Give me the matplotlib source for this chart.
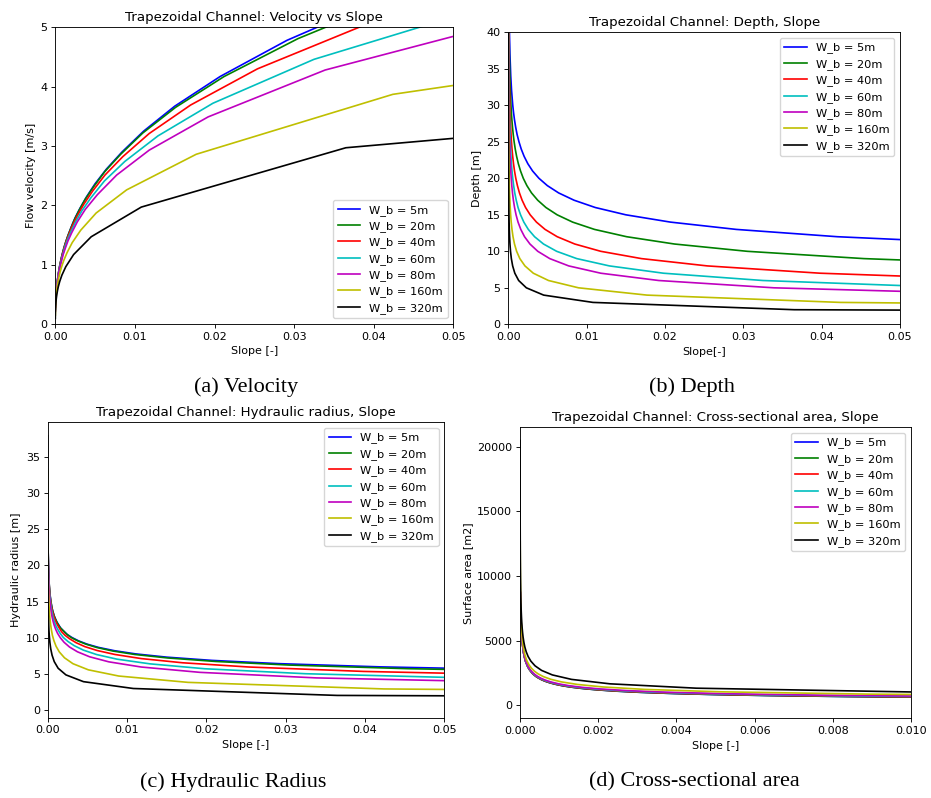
import numpy as np
import matplotlib
matplotlib.use("Agg")
import matplotlib.pyplot as plt

widths = [5, 20, 40, 60, 80, 160, 320]
colors = ['b', 'g', 'r', 'c', 'm', 'y', 'k']

# water depth [m] at which every channel was evaluated
depth = [1, 2, 3, 4, 5, 6, 7, 8, 9, 10, 11, 12, 13, 14, 15, 16, 17, 18, 19, 20,
         21, 22, 23, 24, 25, 26, 27, 28, 29, 30, 32, 34, 37, 40, 44, 49]

# bed slope, in units of 1e-4
slope_5 = [8.33e6, 7.21e5, 1.55e5, 4.91e4, 1.96e4, 9.05e3, 4.66e3, 2.59e3, 1.54e3, 960, 624, 420,
           291, 207, 150, 111, 83.9, 64.2, 49.8, 39.1, 31, 24.9, 20.2, 16.5, 13.6, 11.2, 9.39,
           7.89, 6.66, 5.66, 4.15, 3.1, 2.06, 1.41, 0.889, 0.526]
slope_20 = [6.93e5, 7.9e4, 2.12e4, 8.14e3, 3.79e3, 2e3, 1.15e3, 705, 454, 305, 212, 151, 110,
            82.1, 62.3, 48, 37.5, 29.6, 23.7, 19.1, 15.6, 12.8, 10.6, 8.84, 7.42, 6.27, 5.32,
            4.55, 3.9, 3.36, 2.53, 1.94, 1.33, 0.938, 0.61, 0.373]
slope_40 = [1.81e5, 2.17e4, 6.13e3, 2.47e3, 1.2e3, 664, 398, 254, 170, 118, 84.8, 62.4, 46.9,
            35.9, 27.9, 22, 17.6, 14.2, 11.6, 9.54, 7.91, 6.62, 5.57, 4.72, 4.02, 3.45, 2.97,
            2.57, 2.23, 1.95, 1.5, 1.17, 0.826, 0.597, 0.4, 0.253]
slope_60 = [8.16e4, 9.92e3, 2.85e3, 1.17e3, 580, 325, 198, 129, 87.4, 61.7, 44.9, 33.5, 25.5,
            19.8, 15.6, 12.4, 10.1, 8.22, 6.78, 5.64, 4.73, 3.99, 3.39, 2.9, 2.49, 2.15, 1.87,
            1.63, 1.43, 1.26, 0.981, 0.776, 0.558, 0.41, 0.281, 0.181]
slope_80 = [4.62e4, 5.66e3, 1.64e3, 677, 339, 192, 118, 77.1, 52.9, 37.6, 27.6, 20.7, 15.9,
            12.4, 9.88, 7.95, 6.47, 5.32, 4.42, 3.7, 3.12, 2.65, 2.27, 1.95, 1.69, 1.46, 1.28,
            1.12, 0.987, 0.872, 0.688, 0.55, 0.4, 0.298, 0.207, 0.136]
slope_160 = [1.17e4, 1.44e3, 424, 177, 89.6, 51.3, 31.9, 21.2, 14.7, 10.6, 7.87, 5.99, 4.66,
             3.68, 2.96, 2.41, 1.99, 1.65, 1.39, 1.18, 1.0, 0.862, 0.746, 0.648, 0.567, 0.498,
             0.439, 0.389, 0.346, 0.309, 0.248, 0.202, 0.151, 0.116, 0.0828, 0.0566]
slope_320 = [2.93e3, 365, 108, 45.1, 23, 13.2, 8.29, 5.53, 3.86, 2.8, 2.09, 1.6, 1.25, 0.998,
             0.807, 0.661, 0.548, 0.459, 0.388, 0.331, 0.284, 0.246, 0.214, 0.187, 0.165, 0.145,
             0.129, 0.115, 0.103, 0.0925, 0.0753, 0.062, 0.0473, 0.0367, 0.027, 0.0189]

# flow velocity [m/s]
vel_5 = [275, 107, 58.3, 37, 25.7, 18.9, 14.5, 11.5, 9.3, 7.7, 6.48, 5.53, 4.78, 4.17, 3.67,
         3.25, 2.9, 2.61, 2.36, 2.14, 1.95, 1.79, 1.64, 1.51, 1.4, 1.3, 1.21, 1.13, 1.05, 0.987,
         0.872, 0.776, 0.659, 0.566, 0.47, 0.381]
vel_20 = [87.5, 40.1, 24.7, 17.2, 12.8, 10, 8.09, 6.68, 5.63, 4.81, 4.17, 3.65, 3.22, 2.86,
          2.57, 2.31, 2.1, 1.91, 1.75, 1.6, 1.48, 1.37, 1.27, 1.18, 1.1, 1.03, 0.963, 0.905,
          0.851, 0.802, 0.716, 0.643, 0.553, 0.481, 0.405, 0.333]
vel_40 = [45.8, 21.9, 13.9, 10, 7.7, 6.17, 5.09, 4.3, 3.69, 3.21, 2.82, 2.51, 2.24, 2.02, 1.83,
          1.67, 1.53, 1.41, 1.3, 1.2, 1.12, 1.04, 0.973, 0.911, 0.856, 0.805, 0.758, 0.716,
          0.677, 0.642, 0.578, 0.524, 0.456, 0.401, 0.342, 0.285]
vel_60 = [31, 15, 9.72, 7.08, 5.5, 4.46, 3.72, 3.17, 2.74, 2.41, 2.13, 1.91, 1.72, 1.56, 1.43,
          1.31, 1.2, 1.11, 1.03, 0.963, 0.899, 0.841, 0.79, 0.743, 0.7, 0.661, 0.625, 0.593,
          0.563, 0.535, 0.485, 0.442, 0.388, 0.344, 0.296, 0.249]
vel_80 = [23.5, 11.5, 7.46, 5.47, 4.28, 3.49, 2.93, 2.51, 2.18, 1.93, 1.72, 1.54, 1.4, 1.27,
          1.17, 1.07, 0.993, 0.922, 0.859, 0.802, 0.751, 0.706, 0.664, 0.627, 0.592, 0.561,
          0.532, 0.506, 0.481, 0.458, 0.418, 0.383, 0.338, 0.301, 0.26, 0.221]
vel_160 = [11.9, 5.87, 3.87, 2.86, 2.26, 1.87, 1.58, 1.37, 1.2, 1.07, 0.962, 0.872, 0.796, 0.731,
           0.675, 0.627, 0.584, 0.546, 0.512, 0.481, 0.454, 0.429, 0.406, 0.386, 0.367, 0.349,
           0.333, 0.318, 0.304, 0.292, 0.269, 0.248, 0.222, 0.201, 0.176, 0.152]
vel_320 = [5.98, 2.97, 1.97, 1.47, 1.17, 0.966, 0.823, 0.716, 0.633, 0.566, 0.512, 0.466, 0.428,
           0.395, 0.367, 0.342, 0.32, 0.3, 0.283, 0.267, 0.253, 0.24, 0.229, 0.218, 0.208, 0.199,
           0.191, 0.183, 0.176, 0.169, 0.157, 0.146, 0.132, 0.12, 0.107, 0.094]

# hydraulic radius [m]
rad_5 = [0.739, 1.29, 1.79, 2.27, 2.74, 3.2, 3.66, 4.12, 4.57, 5.03, 5.48, 5.93, 6.38, 6.83,
         7.28, 7.73, 8.18, 8.63, 9.08, 9.53, 9.98, 10.4, 10.9, 11.3, 11.8, 12.2, 12.7, 13.1,
         13.6, 14, 14.9, 15.8, 17.1, 18.5, 20.3, 22.5]
rad_20 = [0.899, 1.66, 2.33, 2.96, 3.54, 4.1, 4.64, 5.16, 5.68, 6.18, 6.68, 7.17, 7.65, 8.13,
          8.61, 9.09, 9.56, 10, 10.5, 11, 11.4, 11.9, 12.4, 12.8, 13.3, 13.7, 14.2, 14.7, 15.1,
          15.6, 16.5, 17.4, 18.8, 20.1, 21.9, 24.2]
rad_40 = [0.944, 1.8, 2.58, 3.32, 4.01, 4.67, 5.3, 5.91, 6.5, 7.08, 7.65, 8.2, 8.74, 9.28,
          9.81, 10.3, 10.8, 11.4, 11.9, 12.4, 12.9, 13.4, 13.8, 14.3, 14.8, 15.3, 15.8, 16.3,
          16.7, 17.2, 18.2, 19.1, 20.5, 21.9, 23.8, 26.1]
rad_60 = [0.962, 1.86, 2.7, 3.49, 4.25, 4.98, 5.67, 6.35, 7, 7.64, 8.26, 8.87, 9.46, 10, 10.6,
          11.2, 11.7, 12.3, 12.8, 13.4, 13.9, 14.4, 15, 15.5, 16, 16.5, 17, 17.5, 18, 18.5,
          19.5, 20.5, 22, 23.4, 25.4, 27.7]
rad_80 = [0.971, 1.89, 2.76, 3.6, 4.4, 5.17, 5.91, 6.63, 7.33, 8.02, 8.68, 9.34, 9.98, 10.6,
          11.2, 11.8, 12.4, 13, 13.6, 14.2, 14.7, 15.3, 15.8, 16.4, 16.9, 17.5, 18, 18.6, 19.1,
          19.6, 20.7, 21.7, 23.2, 24.7, 26.7, 29.2]
rad_160 = [0.985, 1.94, 2.87, 3.78, 4.66, 5.52, 6.37, 7.19, 8, 8.79, 9.57, 10.3, 11.1, 11.8,
           12.6, 13.3, 14, 14.7, 15.4, 16, 16.7, 17.4, 18, 18.7, 19.3, 20, 20.6, 21.2, 21.8,
           22.4, 23.6, 24.8, 26.6, 28.3, 30.6, 33.3]
rad_320 = [0.992, 1.97, 2.93, 3.88, 4.82, 5.74, 6.66, 7.56, 8.44, 9.32, 10.2, 11, 11.9, 12.7,
           13.6, 14.4, 15.2, 16, 16.8, 17.6, 18.4, 19.1, 19.9, 20.7, 21.4, 22.2, 22.9, 23.6,
           24.4, 25.1, 26.5, 27.9, 30, 32.1, 34.7, 38]

# cross-sectional area [m2]
area_5 = [7, 18, 33, 52, 75, 102, 133, 168, 207, 250, 297, 348, 403, 462, 525, 592, 663, 738,
          817, 900, 987, 1078, 1173, 1272, 1375, 1482, 1593, 1708, 1827, 1950, 2208, 2482, 2923,
          3400, 4092, 5047]
area_20 = [22, 48, 78, 112, 150, 192, 238, 288, 342, 400, 462, 528, 598, 672, 750, 832, 918,
           1008, 1102, 1200, 1302, 1408, 1518, 1632, 1750, 1872, 1998, 2128, 2262, 2400, 2688,
           2992, 3478, 4000, 4752, 5782]
area_40 = [42, 88, 138, 192, 250, 312, 378, 448, 522, 600, 682, 768, 858, 952, 1050, 1152, 1258,
           1368, 1482, 1600, 1722, 1848, 1978, 2112, 2250, 2392, 2538, 2688, 2842, 3000, 3328,
           3672, 4218, 4800, 5632, 6762]
area_60 = [62, 128, 198, 272, 350, 432, 518, 608, 702, 800, 902, 1008, 1118, 1232, 1350, 1472,
           1598, 1728, 1862, 2000, 2142, 2288, 2438, 2592, 2750, 2912, 3078, 3248, 3422, 3600,
           3968, 4352, 4958, 5600, 6512, 7742]
area_80 = [82, 168, 258, 352, 450, 552, 658, 768, 882, 1000, 1122, 1248, 1378, 1512, 1650, 1792,
           1938, 2088, 2242, 2400, 2562, 2728, 2898, 3072, 3250, 3432, 3618, 3808, 4002, 4200,
           4608, 5032, 5698, 6400, 7392, 8722]
area_160 = [162, 328, 498, 672, 850, 1032, 1218, 1408, 1602, 1800, 2002, 2208, 2418, 2632, 2850,
            3072, 3298, 3528, 3762, 4000, 4242, 4488, 4738, 4992, 5250, 5512, 5778, 6048, 6322,
            6600, 7168, 7752, 8658, 9600, 10912, 12642]
area_320 = [322, 648, 978, 1312, 1650, 1992, 2338, 2688, 3042, 3400, 3762, 4128, 4498, 4872,
            5250, 5632, 6018, 6408, 6802, 7200, 7602, 8008, 8418, 8832, 9250, 9672, 10098, 10528,
            10962, 11400, 12288, 13192, 14578, 16000, 17952, 20482]

slopes = [slope_5, slope_20, slope_40, slope_60, slope_80, slope_160, slope_320]
vels = [vel_5, vel_20, vel_40, vel_60, vel_80, vel_160, vel_320]
rads = [rad_5, rad_20, rad_40, rad_60, rad_80, rad_160, rad_320]
areas = [area_5, area_20, area_40, area_60, area_80, area_160, area_320]

small = 8.0
plt.rcParams['axes.linewidth'] = 0.64
plt.rcParams['xtick.major.size'] = 2.8
plt.rcParams['ytick.major.size'] = 2.8
plt.rcParams['xtick.major.width'] = 0.64
plt.rcParams['ytick.major.width'] = 0.64
plt.rcParams['xtick.major.pad'] = 2.8
plt.rcParams['ytick.major.pad'] = 2.8

fig = plt.figure(figsize=(9.31, 7.98), dpi=100)
ax_v = fig.add_axes([0.0594, 0.5940, 0.4275, 0.3718])
ax_d = fig.add_axes([0.5460, 0.5936, 0.4207, 0.3659])
ax_r = fig.add_axes([0.0512, 0.1006, 0.4260, 0.3702])
ax_a = fig.add_axes([0.5585, 0.0999, 0.4200, 0.3647])

for w, c, s, v, r, a in zip(widths, colors, slopes, vels, rads, areas):
    x = np.array(s) * 1e-4
    lab = "W_b = %dm" % w
    ax_v.plot(x, v, c, lw=1.2, label=lab)
    ax_d.plot(x, depth, c, lw=1.2, label=lab)
    ax_r.plot(x, r, c, lw=1.2, label=lab)
    ax_a.plot(x, a, c, lw=1.2, label=lab)

ax_v.set_xlim(0, 0.05)
ax_v.set_ylim(0, 5)
ax_d.set_xlim(0, 0.05)
ax_d.set_ylim(0, 40)
ax_r.set_xlim(0, 0.05)
ax_a.set_xlim(0, 0.01)

titles = ["Trapezoidal Channel: Velocity vs Slope", "Trapezoidal Channel: Depth, Slope",
          "Trapezoidal Channel: Hydraulic radius, Slope",
          "Trapezoidal Channel: Cross-sectional area, Slope"]
xlabels = ["Slope [-]", "Slope[-]", "Slope [-]", "Slope [-]"]
ylabels = ["Flow velocity [m/s]", "Depth [m]", "Hydraulic radius [m]", "Surface area [m2]"]
locs = ['lower right', 'upper right', 'upper right', 'upper right']

for ax, t, xl, yl, loc in zip([ax_v, ax_d, ax_r, ax_a], titles, xlabels, ylabels, locs):
    ax.set_title(t, fontsize=9.6, pad=4.8)
    ax.set_xlabel(xl, fontsize=small, labelpad=3.2)
    ax.set_ylabel(yl, fontsize=small, labelpad=3.2)
    ax.tick_params(labelsize=small)
    ax.legend(loc=loc, fontsize=8.2, labelspacing=0.48)

caps = [("(a) Velocity", 0.2645, 0.5154), ("(b) Depth", 0.7430, 0.5154),
        ("(c) Hydraulic Radius", 0.2503, 0.0205), ("(d) Cross-sectional area", 0.7460, 0.0205)]
for txt, cx, cy in caps:
    fig.text(cx, cy, txt, family="Liberation Serif", fontsize=16, ha="center", va="center")

fig.savefig("out.png", dpi=100)
